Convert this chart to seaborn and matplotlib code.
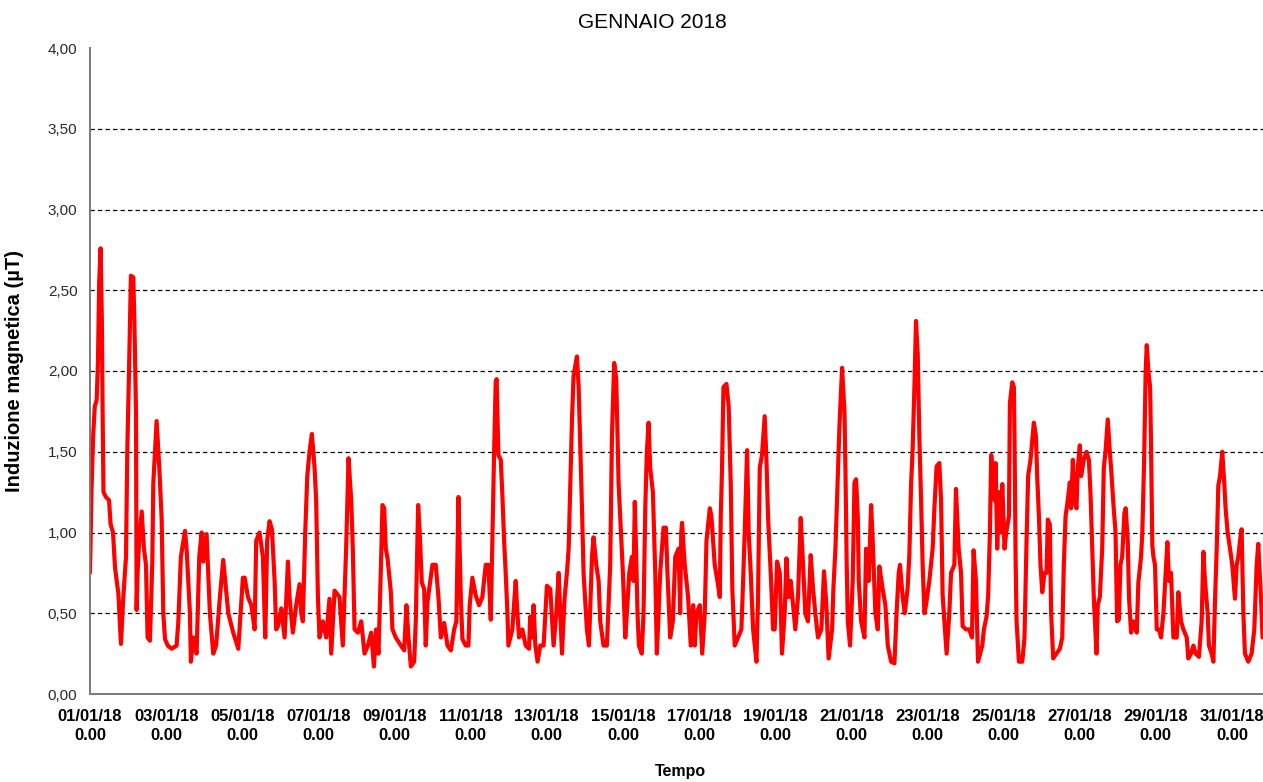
import matplotlib
matplotlib.use('Agg')
import matplotlib.pyplot as plt
import matplotlib.ticker as mticker
import seaborn as sns
import pandas as pd

# Dati: ore dall'inizio del mese (01/01/18 0.00) e induzione in microtesla
ore = [
    0.0, 1.0, 2.0, 3.0, 4.2, 5.0, 5.8, 6.7, 7.5, 8.0, 8.5, 10.0, 12.0, 13.0, 14.5, 15.8, 17.9, 19.5,
    21.0, 22.7, 23.5, 24.6, 25.8, 27.3, 28.0, 29.0, 29.4, 30.0, 31.0, 32.6, 34.0, 35.3, 36.3, 37.8,
    39.3, 39.9, 42.0, 43.7, 45.2, 46.2, 47.3, 49.0, 51.5, 54.6, 55.7, 57.3, 59.9, 60.9, 63.0, 63.6,
    65.1, 67.2, 68.9, 70.4, 71.4, 73.5, 75.6, 77.7, 79.5, 81.9, 84.0, 87.2, 90.3, 93.5,
    94.3, 96.4, 97.5, 99.6, 101.7, 103.8, 104.8, 106.9, 109.0, 110.5, 111.7, 113.2, 114.7, 116.4,
    117.4, 118.5, 120.6, 122.7, 124.8, 125.8, 127.9, 130.0, 132.1, 133.2, 134.2, 135.7, 137.0, 138.4,
    139.9, 141.6, 142.6, 143.7, 144.7, 146.8, 148.9, 151.0, 152.1, 154.2, 157.3, 159.4, 161.5, 163.0,
    164.7, 165.7, 166.8, 168.9, 171.0, 173.1, 175.2, 177.3, 179.0, 180.4, 181.9, 183.6,
    184.4, 185.5, 186.5, 187.6, 189.7, 190.7, 192.8, 196.0, 198.1, 199.5, 200.8, 202.3, 204.4, 205.4,
    206.9, 207.9, 209.2, 210.7, 211.7, 212.8, 215.9, 218.0, 219.7, 221.2, 223.3, 225.4, 227.5, 229.6,
    231.0, 232.3, 233.8, 234.8, 236.9, 238.6, 239.4, 241.1, 243.2, 245.3, 247.4, 249.5, 251.2, 252.7,
    253.7, 254.8, 255.8, 256.4, 257.5, 259.0, 260.0, 261.1, 262.1, 263.2, 263.8, 266.3, 268.4, 269.5,
    270.5, 272.6, 274.7, 276.8,
    277.6, 278.7, 279.7, 280.8, 282.2, 283.9, 286.0, 288.1, 290.2, 292.3, 294.0, 295.5, 296.5, 297.6,
    299.2, 300.7, 301.8, 302.8, 303.9, 304.9, 307.0, 308.1, 309.1, 310.2, 311.2, 313.3, 314.6, 316.5,
    317.5, 319.2, 320.7, 321.7, 323.8, 325.9, 328.0, 329.1, 330.5, 331.8, 332.6, 333.3, 334.3, 336.0,
    337.5, 338.5, 340.0, 341.7, 342.7, 343.5, 344.4, 345.2, 346.1, 347.9, 349.0, 350.1, 351.1, 352.2,
    353.2, 354.9, 356.4, 357.4, 358.5, 359.5, 361.6, 363.1, 364.1, 365.8, 367.5, 369.0, 371.1, 372.1,
    372.8, 373.3, 375.0, 377.1, 378.8, 380.3, 381.3, 382.4, 384.5, 386.0, 387.6, 388.7, 390.8, 391.8,
    393.9, 395.6, 397.1, 397.7, 398.5, 399.4, 401.3, 402.7, 404.0, 405.0, 406.5, 408.6, 410.7, 411.8,
    412.8, 414.3, 415.3, 416.6, 418.1, 420.2, 421.2, 422.3, 423.7, 425.4, 426.5, 427.5, 429.2, 430.7,
    431.7, 433.2, 434.9, 436.3, 438.0, 439.1, 440.5, 441.8, 443.3, 444.7, 446.4, 448.1, 449.6, 451.0,
    452.7, 454.4, 455.9, 457.3, 459.0, 461.1, 462.8, 464.3, 465.7,
    467.9, 468.7, 470.0, 471.5, 472.5, 474.2, 475.7, 476.3, 477.1, 477.8, 479.2, 480.9, 482.0, 483.0,
    484.1, 484.7, 486.2, 488.3, 489.3, 491.0, 492.5, 493.5, 495.2, 496.7, 497.7, 499.8, 501.5, 503.0,
    505.1, 507.2, 508.6, 509.9, 510.7, 512.4, 513.7, 515.5, 516.6, 517.7, 518.7, 519.8, 520.8, 521.9,
    522.9, 524.0, 525.0, 526.1, 527.1, 529.2, 531.3, 532.4, 533.8, 535.5, 536.6, 537.6, 538.7, 540.1,
    541.8, 542.9, 545.0, 546.0, 547.7, 549.2, 550.2, 552.3, 554.4, 556.1, 557.1, 558.6, 559.9,
    562.6, 563.6, 565.3, 566.3, 567.4, 568.2, 569.5, 570.3, 571.0, 572.0, 573.1, 574.1, 575.2, 576.6,
    577.7, 579.4, 580.0, 581.5, 582.5, 582.9, 583.6, 584.2, 585.7, 587.8, 589.2, 590.5, 591.5, 593.0,
    595.1, 596.4, 597.2, 598.3, 599.3, 600.4, 601.8, 603.1, 603.9, 605.2, 606.0, 607.3, 609.4, 611.5,
    613.0, 614.0, 615.1, 616.5, 617.8, 618.6, 619.7, 620.7, 622.0, 622.8, 624.1, 624.9, 626.6, 628.3,
    629.8, 630.8, 631.9, 632.9, 634.6, 635.4, 636.7, 638.2, 639.2, 640.3, 641.7, 643.0, 643.8, 645.1,
    646.6, 647.6, 648.7, 649.7, 650.8, 652.2,
    653.0, 654.3, 655.1, 656.4, 657.9, 660.0, 661.0, 662.7, 663.5, 664.6, 665.6, 666.3, 667.3, 668.4,
    669.0, 669.8, 670.5, 671.5, 672.6, 674.0, 675.3, 676.8, 678.2, 679.3, 680.3, 681.6, 683.1, 685.2,
    686.2, 687.9, 689.4, 691.5, 692.5, 694.2, 695.7, 697.1, 699.2, 700.9, 702.0, 703.0, 704.7, 705.5,
    707.2, 708.3, 709.3, 710.4, 711.4, 712.5, 713.9, 715.2, 716.0, 717.3, 718.8, 720.2, 721.9, 723.0,
    724.0, 725.1, 726.1, 727.2, 728.2, 730.3, 732.4, 734.1, 735.6, 736.6, 738.3, 739.3, 741.0,
]
valori = [
    0.75, 1.28, 1.60, 1.78, 1.82, 2.05, 2.55, 2.76, 2.30, 1.70, 1.25, 1.22, 1.20, 1.05, 1.00, 0.78, 0.62, 0.31,
    0.60, 0.85, 1.50, 2.00, 2.59, 2.58, 2.30, 1.75, 0.52, 0.75, 0.95, 1.13, 0.90, 0.80, 0.35, 0.33,
    0.82, 1.30, 1.69, 1.40, 1.08, 0.50, 0.34, 0.30, 0.28, 0.30, 0.45, 0.85, 1.01, 0.90, 0.50, 0.20,
    0.35, 0.25, 0.85, 1.00, 0.82, 0.99, 0.50, 0.25, 0.30, 0.60, 0.83, 0.50, 0.38, 0.28,
    0.40, 0.72, 0.72, 0.60, 0.55, 0.40, 0.95, 1.00, 0.85, 0.35, 0.95, 1.07, 1.02, 0.70,
    0.40, 0.42, 0.53, 0.35, 0.82, 0.60, 0.38, 0.55, 0.68, 0.50, 0.45, 1.00, 1.35, 1.50,
    1.61, 1.40, 1.20, 0.60, 0.35, 0.45, 0.35, 0.59, 0.25, 0.64, 0.60, 0.30, 0.90, 1.46,
    1.20, 0.90, 0.40, 0.38, 0.45, 0.25, 0.30, 0.38, 0.17, 0.40, 0.25, 0.85,
    1.17, 1.15, 0.90, 0.84, 0.63, 0.40, 0.35, 0.30, 0.27, 0.55, 0.35, 0.17, 0.20, 0.45,
    1.17, 1.00, 0.69, 0.65, 0.30, 0.57, 0.80, 0.80, 0.60, 0.35, 0.44, 0.30, 0.27, 0.40,
    0.45, 1.22, 0.60, 0.34, 0.30, 0.30, 0.55, 0.72, 0.61, 0.55, 0.60, 0.80, 0.80, 0.46,
    0.95, 1.50, 1.93, 1.95, 1.48, 1.45, 1.23, 0.95, 0.75, 0.50, 0.30, 0.40, 0.70, 0.50,
    0.35, 0.40, 0.30, 0.28,
    0.48, 0.35, 0.55, 0.30, 0.20, 0.30, 0.30, 0.67, 0.65, 0.30, 0.50, 0.75, 0.50, 0.25,
    0.59, 0.75, 0.90, 1.27, 1.70, 1.97, 2.09, 1.90, 1.55, 1.15, 0.75, 0.40, 0.30, 0.85,
    0.97, 0.80, 0.70, 0.45, 0.30, 0.30, 0.80, 1.60, 2.05, 1.95, 1.60, 1.30, 1.10, 0.75,
    0.35, 0.50, 0.75, 0.85, 0.70, 1.19, 0.85, 0.50, 0.30, 0.25, 0.50, 1.15, 1.50, 1.68,
    1.40, 1.25, 0.75, 0.25, 0.50, 0.75, 1.03, 1.03, 0.75, 0.35, 0.45, 0.85, 0.90, 0.50,
    1.00, 1.06, 0.80, 0.60, 0.30, 0.55, 0.30, 0.50, 0.55, 0.25, 0.50, 0.95, 1.15, 1.10,
    0.80, 0.70, 0.60, 1.10, 1.40, 1.90, 1.92, 1.78, 1.30, 0.65, 0.30, 0.35, 0.40, 0.70,
    1.00, 1.51, 1.00, 0.75, 0.40, 0.20, 0.60, 1.40, 1.48, 1.72, 1.45, 1.10, 0.75, 0.40,
    0.40, 0.82, 0.75, 0.25, 0.50, 0.84, 0.60, 0.70, 0.55, 0.40, 0.60, 1.09, 0.80, 0.50,
    0.45, 0.86, 0.65, 0.50, 0.35, 0.40, 0.76, 0.55, 0.22,
    0.40, 0.65, 0.90, 1.35, 1.65, 2.02, 1.75, 1.40, 0.80, 0.45, 0.30, 0.70, 1.31, 1.33,
    1.10, 0.70, 0.45, 0.35, 0.90, 0.70, 1.17, 0.95, 0.50, 0.40, 0.79, 0.65, 0.55, 0.30,
    0.20, 0.19, 0.51, 0.75, 0.80, 0.60, 0.50, 0.65, 0.86, 1.30, 1.52, 1.90, 2.31, 2.10,
    1.60, 1.20, 0.80, 0.50, 0.55, 0.70, 0.90, 1.15, 1.41, 1.43, 1.20, 0.61, 0.45, 0.25,
    0.50, 0.75, 0.80, 1.27, 0.90, 0.75, 0.42, 0.40, 0.40, 0.35, 0.89, 0.70, 0.20,
    0.30, 0.40, 0.48, 0.61, 1.00, 1.48, 1.35, 1.20, 1.43, 0.90, 1.25, 1.00, 1.30, 0.90,
    1.00, 1.10, 1.80, 1.93, 1.90, 1.60, 0.84, 0.45, 0.20, 0.20, 0.35, 0.95, 1.35, 1.45,
    1.68, 1.60, 1.35, 1.10, 0.80, 0.63, 0.75, 0.75, 1.08, 1.05, 0.50, 0.22, 0.25, 0.28,
    0.35, 0.80, 1.10, 1.20, 1.31, 1.15, 1.45, 1.20, 1.15, 1.40, 1.54, 1.35, 1.45, 1.50,
    1.45, 1.25, 0.90, 0.60, 0.25, 0.55, 0.60, 0.90, 1.40, 1.50, 1.70, 1.50, 1.40, 1.20,
    1.00, 0.45, 0.46, 0.80, 0.85, 1.12,
    1.15, 0.95, 0.60, 0.38, 0.45, 0.38, 0.69, 0.85, 1.00, 1.43, 2.00, 2.16, 2.00, 1.90,
    1.54, 0.92, 0.85, 0.80, 0.40, 0.40, 0.35, 0.50, 0.75, 0.94, 0.70, 0.75, 0.35, 0.35,
    0.63, 0.45, 0.40, 0.35, 0.22, 0.25, 0.30, 0.25, 0.23, 0.45, 0.88, 0.70, 0.50, 0.30,
    0.25, 0.20, 0.57, 0.90, 1.29, 1.35, 1.50, 1.30, 1.15, 1.00, 0.90, 0.80, 0.59, 0.80,
    0.85, 0.95, 1.02, 0.50, 0.25, 0.20, 0.25, 0.40, 0.80, 0.93, 0.60, 0.35, 0.35,
]

giorni = ["01/01/18", "03/01/18", "05/01/18", "07/01/18", "09/01/18", "11/01/18", "13/01/18",
          "15/01/18", "17/01/18", "19/01/18", "21/01/18", "23/01/18", "25/01/18", "27/01/18",
          "29/01/18", "31/01/18"]
ora_etichetta = "0.00"
livelli_y = [0.0, 0.5, 1.0, 1.5, 2.0, 2.5, 3.0, 3.5, 4.0]

sns.set_style("white")
plt.rcParams['font.family'] = ['Liberation Sans', 'DejaVu Sans']
plt.rcParams['text.color'] = 'black'
plt.rcParams['axes.labelcolor'] = 'black'

df = pd.DataFrame({'ore': ore, 'valore': valori})

W, H = 1263, 782
fig = plt.figure(figsize=(W / 100, H / 100), dpi=100)
# area del grafico: l'asse finisce a 01/02 0.00, appena oltre il bordo destro
ax = fig.add_axes([90 / W, 88 / H, 1180 / W, 646 / H])

sns.lineplot(data=df, x='ore', y='valore', ax=ax, color='#FF0000', linewidth=3.0,
             sort=False, estimator=None)

ax.set_xlim(0, 744)
ax.set_ylim(0, 4)
ax.set_yticks(livelli_y)
ax.yaxis.set_major_formatter(mticker.FuncFormatter(lambda v, p: f"{v:.2f}".replace('.', ',')))
ax.set_xticks([i * 48 for i in range(len(giorni))])
ax.set_xticklabels([f"{g}\n{ora_etichetta}" for g in giorni], fontweight='bold',
                   fontsize=12, linespacing=1.35)

for s in ['top', 'right']:
    ax.spines[s].set_visible(False)
for s in ['left', 'bottom']:
    ax.spines[s].set_color('#7a7a7a')
    ax.spines[s].set_linewidth(1.4)

ax.tick_params(axis='both', direction='out', length=6, width=1.2, color='#7a7a7a')
ax.tick_params(axis='y', labelsize=11, labelcolor='#2a2a2a', pad=3)
ax.tick_params(axis='x', pad=5, labelcolor='black')

# griglia tratteggiata solo tra 0,50 e 3,50
ax.yaxis.grid(True, linestyle=(0, (3.5, 2.5)), color='black', linewidth=0.9)
ax.xaxis.grid(False)
gl = ax.get_ygridlines()
gl[0].set_visible(False)
gl[-1].set_visible(False)
ax.set_axisbelow(True)

ax.set_xlabel('Tempo', fontweight='bold', fontsize=11.5)
ax.xaxis.set_label_coords(0.5, -0.108)
ax.set_ylabel('Induzione magnetica (µT)', fontweight='bold', fontsize=14.5)
ax.yaxis.set_label_coords(-0.056, 0.5)

fig.text(652 / W, 1 - 22 / H, 'GENNAIO 2018', ha='center', va='center', fontsize=15, color='black')

fig.savefig('out.png', dpi=100)
